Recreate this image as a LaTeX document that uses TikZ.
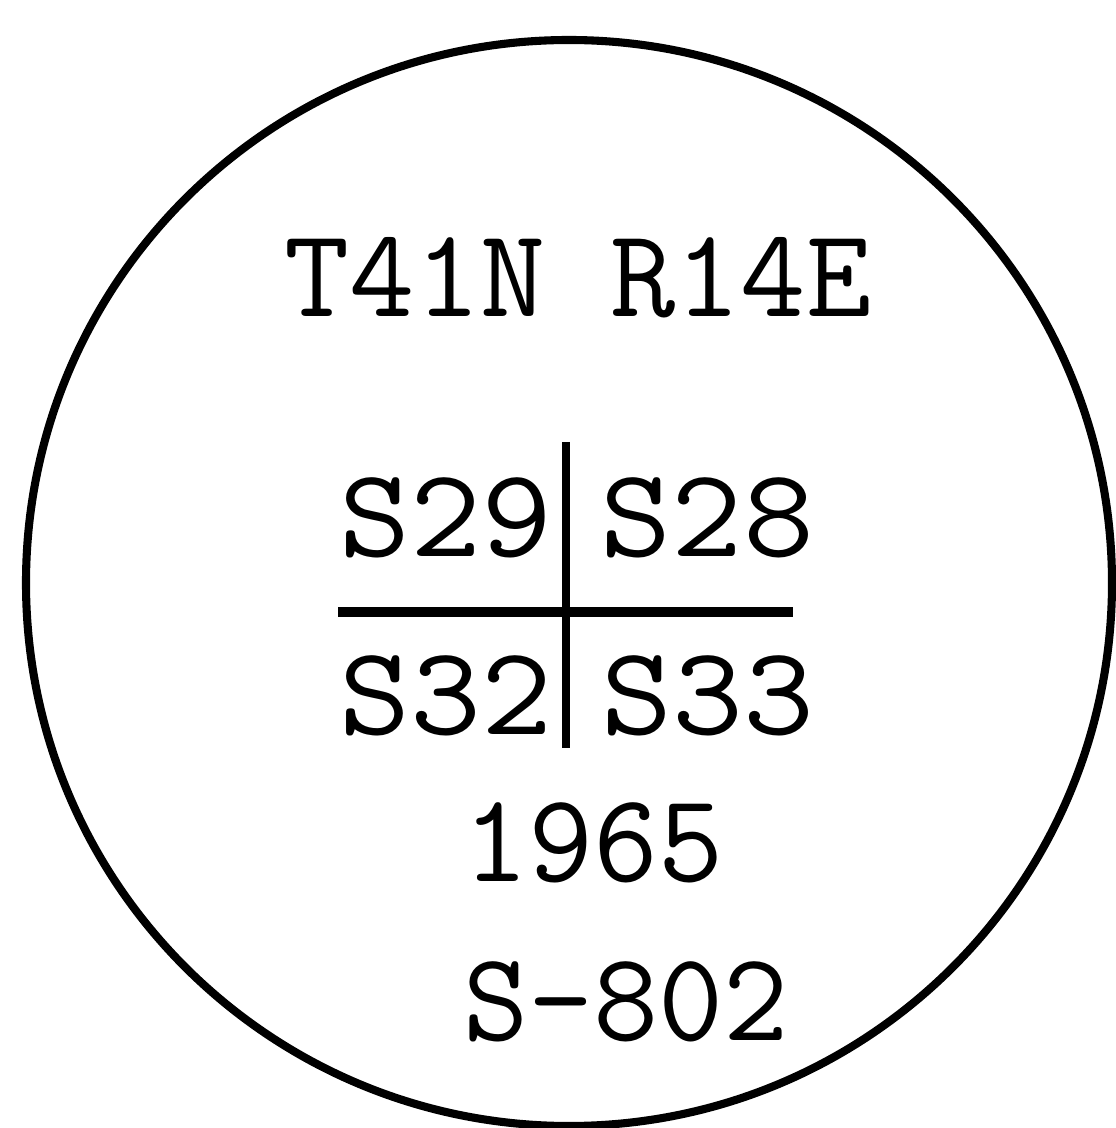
\documentclass[tikz,border=0pt]{standalone}
\usepackage{xcolor}
\usepackage{tikz}
\usetikzlibrary{positioning}

\begin{document}
\begin{tikzpicture}[
  stamp/.style={font=\fontsize{72}{80}\selectfont\ttfamily, inner sep=0pt, anchor=base},
  secnum/.style={stamp, xscale=1.09},
  rim/.style={draw=black, line width=4.6pt},
  cross/.style={draw=black, line width=5.2pt}
]
\useasboundingbox (0,0) rectangle (22.32,22.56);
\clip (0,0) rectangle (22.32,22.56);

\draw[rim] (11.38,10.90) circle (10.86cm);

\node[stamp] (township) at (11.56,16.22) {T41N R14E};
\node[secnum] (s29) at (8.91,11.42) {S29};
\node[secnum] (s28) at (14.15,11.42) {S28};
\node[secnum] (s32) at (8.92,7.86) {S32};
\node[secnum] (s33) at (14.16,7.86) {S33};
\node[stamp] (year) at (11.87,4.92) {1965};
\node[stamp] (mark) at (12.52,1.76) {S-802};

% section corner cross
\coordinate (west) at (6.76,10.32);
\coordinate (east) at (15.86,10.32);
\coordinate (north) at (11.32,13.72);
\coordinate (south) at (11.32,7.60);
\draw[cross] (west) -- (east);
\draw[cross, line width=4.5pt] (north) -- (south);
\end{tikzpicture}
\end{document}
